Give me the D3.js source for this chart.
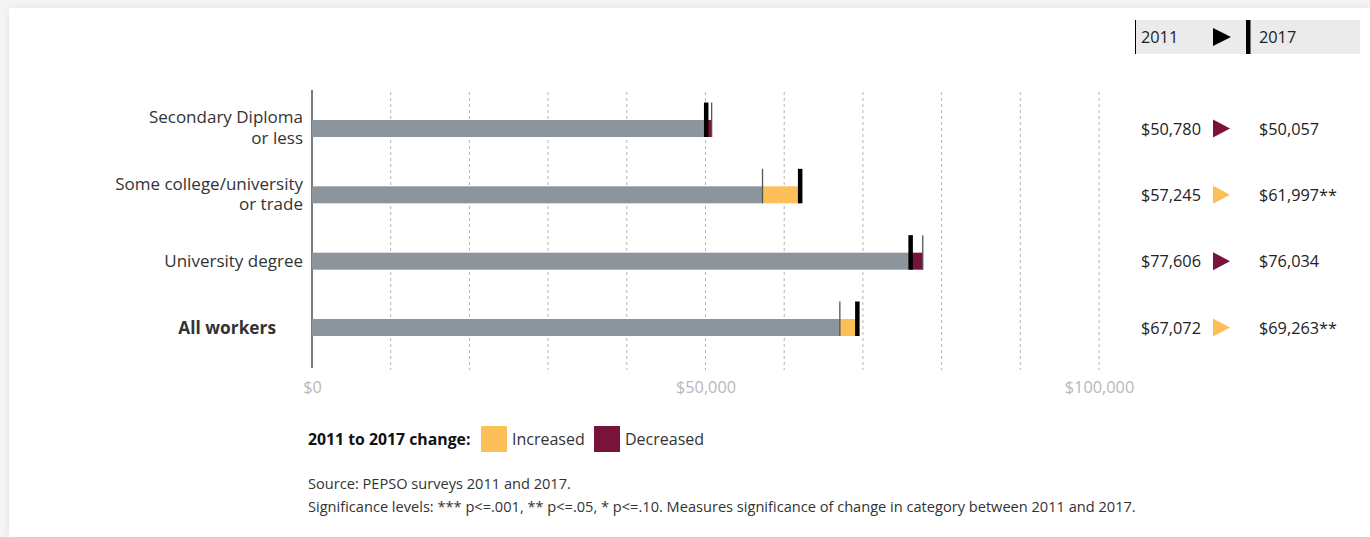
<!DOCTYPE html>
<html><head><meta charset="utf-8">
<script src="https://cdn.jsdelivr.net/npm/d3@7"></script>
<style>
html,body{margin:0;padding:0;background:#f4f4f4;}
#card{position:absolute;left:9px;top:8px;width:1361px;height:529px;background:#fff;box-shadow:0 0 8px rgba(0,0,0,0.08);}
svg{position:absolute;left:0;top:0;font-family:"Open Sans","Noto Sans",sans-serif;}
</style></head>
<body><div id="card"></div>
<script>
const categories = ["Secondary Diploma\nor less", "Some college/university\nor trade", "University degree", "All workers"];
const boldCategory = [false, false, false, true];
const values2011 = [50780, 57245, 77606, 67072];
const values2017 = [50057, 61997, 76034, 69263];
const significance2017 = ["", "**", "", "**"];
const tickValues = [0, 50000, 100000];
const gridValues = [10000,20000,30000,40000,50000,60000,70000,80000,90000,100000];
const legendItems = ["Increased", "Decreased"];
const headerYears = ["2011", "2017"];
const sourceLines = ["Source: PEPSO surveys 2011 and 2017.",
  "Significance levels: *** p<=.001, ** p<=.05, * p<=.10. Measures significance of change in category between 2011 and 2017."];

const colors = {bar:"#8c949c", inc:"#fdbf57", dec:"#7a133c"};
const W=1370, H=537;
const svg = d3.select("body").append("svg").attr("width",W).attr("height",H);

const x = d3.scaleLinear().domain([0,100000]).range([312,1099]);
const yCenters = d3.scalePoint().domain(d3.range(categories.length)).range([128.5,327.5]);
const barH = 17;
const fmt = d3.format("$,");

// grid
svg.append("g").selectAll("line").data(gridValues).join("line")
  .attr("x1",d=>x(d)).attr("x2",d=>x(d)).attr("y1",92).attr("y2",370)
  .attr("stroke","#b5b5b5").attr("stroke-width",1).attr("stroke-dasharray","3,3");

// axis line
svg.append("line").attr("x1",x(0)).attr("x2",x(0)).attr("y1",90).attr("y2",368)
  .attr("stroke","#222").attr("stroke-width",1.2);

// tick labels via axis
const axis = d3.axisBottom(x).tickValues(tickValues).tickFormat(fmt).tickSize(0).tickPadding(0);
const ag = svg.append("g").attr("transform","translate(0,381)").call(axis);
ag.select(".domain").remove();
ag.selectAll("text").attr("fill","#b8b8b8").attr("font-size",16.3).attr("font-family","'Open Sans','Noto Sans',sans-serif");

// bars
categories.forEach((c,i)=>{
  const cy = yCenters(i);
  const a = values2011[i], b = values2017[i];
  const lo = Math.min(a,b), hi = Math.max(a,b);
  svg.append("rect").attr("x",x(0)).attr("y",cy-barH/2).attr("width",x(lo)-x(0)).attr("height",barH).attr("fill",colors.bar);
  svg.append("rect").attr("x",x(lo)).attr("y",cy-barH/2).attr("width",x(hi)-x(lo)).attr("height",barH).attr("fill", b>a?colors.inc:colors.dec);
  // 2011 thin line
  svg.append("line").attr("x1",x(a)).attr("x2",x(a)).attr("y1",cy-26).attr("y2",cy+barH/2)
    .attr("stroke","#555").attr("stroke-width",1.3);
  // 2017 thick line
  svg.append("rect").attr("x",x(b)-2).attr("y",cy-26).attr("width",4.5).attr("height",26+barH/2).attr("fill","#000");

  // category label (one text element per line)
  const lines = c.split("\n");
  lines.forEach((l,j)=>{
    svg.append("text").attr("text-anchor","end").attr("font-size",boldCategory[i]?17.3:17)
      .attr("fill", "#333").attr("font-weight", boldCategory[i]?700:400)
      .attr("x",boldCategory[i]?276:303)
      .attr("y", cy + 6 + (j - (lines.length-1)/2)*20.5 - (lines.length>1?1:0)).text(l);
  });

  // right values
  svg.append("text").attr("x",1201).attr("y",cy+6).attr("text-anchor","end").attr("font-size",16.3).attr("fill","#222").text(fmt(a));
  svg.append("path").attr("d",`M1213,${cy-9}L1230,${cy}L1213,${cy+9}Z`).attr("fill", b>a?colors.inc:colors.dec);
  svg.append("text").attr("x",1259).attr("y",cy+6).attr("font-size",16.3).attr("fill","#222").text(fmt(b)+significance2017[i]);
});

// header
svg.append("rect").attr("x",1135).attr("y",20).attr("width",225).attr("height",34).attr("fill","#ebebeb");
svg.append("line").attr("x1",1135.5).attr("x2",1135.5).attr("y1",20).attr("y2",54).attr("stroke","#000").attr("stroke-width",1);
svg.append("rect").attr("x",1246).attr("y",20).attr("width",4.5).attr("height",34).attr("fill","#000");
svg.append("text").attr("x",1141).attr("y",43).attr("font-size",16.3).attr("fill","#222").text(headerYears[0]);
svg.append("path").attr("d","M1213,28L1231,37L1213,46Z").attr("fill","#000");
svg.append("text").attr("x",1259).attr("y",43).attr("font-size",16.3).attr("fill","#222").text(headerYears[1]);

// legend
svg.append("text").attr("x",308).attr("y",445).attr("font-size",15.8).attr("font-weight",700).attr("fill","#111").text("2011 to 2017 change:");
const lg = [[481,colors.inc,legendItems[0]],[594,colors.dec,legendItems[1]]];
lg.forEach(([lx,col,lab])=>{
  svg.append("rect").attr("x",lx).attr("y",426).attr("width",26).attr("height",26).attr("fill",col);
  svg.append("text").attr("x",lx+31).attr("y",445).attr("font-size",16).attr("fill","#333").text(lab);
});

// source
sourceLines.forEach((s,j)=>{
  svg.append("text").attr("x",308).attr("y",489+j*23).attr("font-size",14.6).attr("fill","#333").text(s);
});
</script></body></html>
